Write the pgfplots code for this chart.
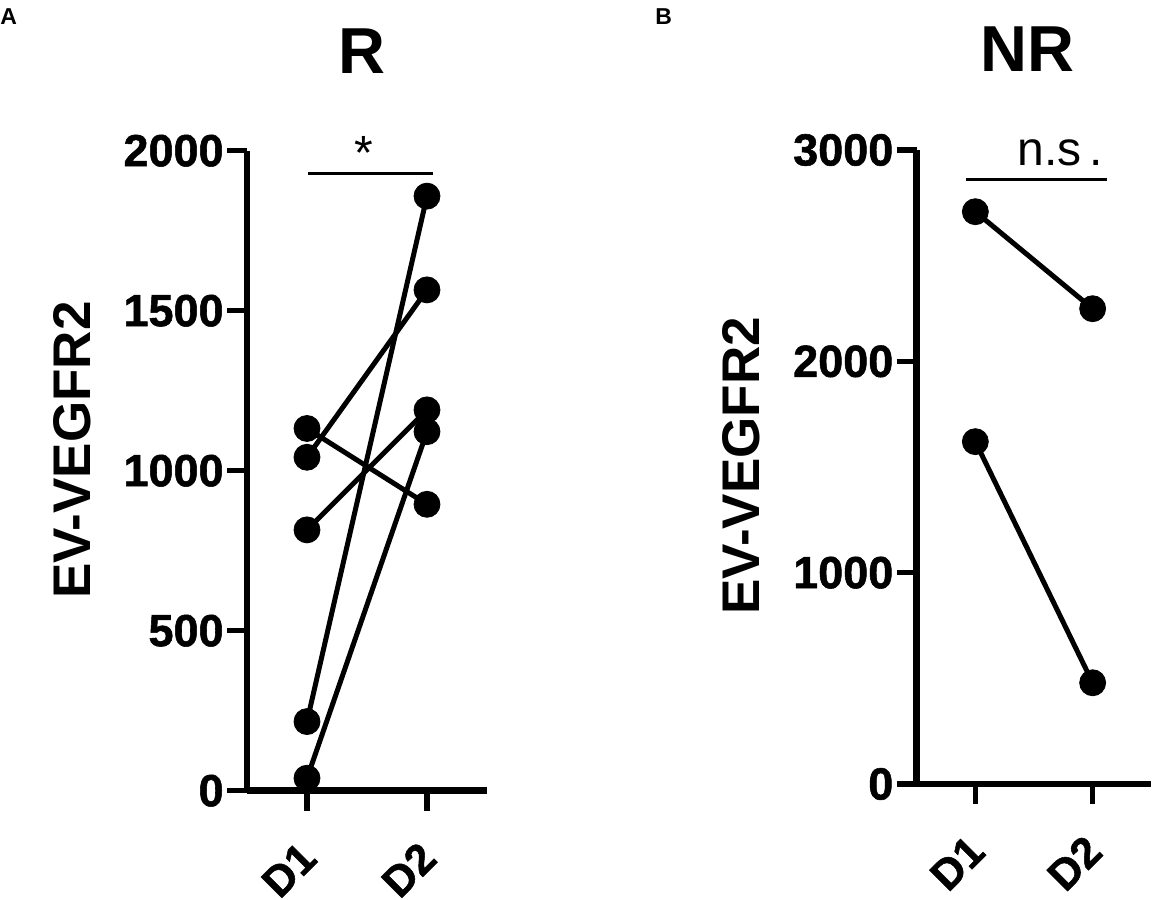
\documentclass[border=0pt]{standalone}
\usepackage{fontspec}
\setmainfont{Liberation Sans}
\newfontfamily\tickfont[FakeBold=1.2]{Liberation Sans Bold}
\usepackage{pgfplots}
\pgfplotsset{compat=1.18}
\pgfplotsset{
  gp/.style={
    scale only axis,
    axis lines=left,
    axis line style={-, line width=3.3pt, black},
    tick align=outside,
    major tick length=10pt,
    major tick style={line width=2.6pt, black},
    xmin=0.5, xmax=2.5, ymin=0,
    xtick={1,2}, xticklabels={D1,D2},
    clip=false,
    /pgf/number format/assume math mode=true,
    yticklabel style={font=\tickfont\fontsize{22.5}{27}\selectfont, inner sep=1.5pt},
    xticklabel style={font=\tickfont\fontsize{21.5}{25}\selectfont, xshift=6pt, yshift=-25pt, rotate=45, anchor=base east, inner sep=0pt},
    every axis y label/.style={rotate=90, anchor=base, font=\bfseries\fontsize{26.5}{30}\selectfont},
    title style={font=\bfseries\fontsize{32.5}{38}\selectfont, anchor=base},
  },
  pair/.style={black, line width=2.5pt, mark=*, mark size=6.5pt, mark options={solid, fill=black, line width=0.4pt}},
  sig/.style={black, line width=1.65pt, no marks},
}
\begin{document}
\begin{tikzpicture}
\path[use as bounding box] (0,0) rectangle (576.5pt,450pt);
\node[anchor=base west, inner sep=0pt, font=\bfseries\fontsize{11.5}{14}\selectfont] at (0pt,437.5pt) {A};
\node[anchor=base west, inner sep=0pt, font=\bfseries\fontsize{11.5}{14}\selectfont] at (327.5pt,437.5pt) {B};
% Panel A
\begin{axis}[gp,
  at={(123.5pt,54.65pt)}, anchor=south west,
  width=120pt, height=320pt,
  ymax=2000,
  ytick={0,500,1000,1500,2000}, yticklabels={0,500,1000,1500,2000},
  ylabel={EV-VEGFR2},
  ylabel style={at={(axis description cs:-0.654,0.532)}},
  title={R},
  title style={at={(axis description cs:0.48,1.102)}},
]
\addplot[pair] coordinates {(1,1132) (2,895)};
\addplot[pair] coordinates {(1,1042) (2,1565)};
\addplot[pair] coordinates {(1,815) (2,1190)};
\addplot[pair] coordinates {(1,216) (2,1858)};
\addplot[pair] coordinates {(1,39) (2,1122)};
\addplot[sig] coordinates {(1.01,1929) (2.05,1929)};
\node[anchor=base, inner sep=0pt, font=\fontsize{24}{28}\selectfont] at (axis cs:1.475,1940) {*};
\end{axis}
% Panel B
\begin{axis}[gp,
  at={(458.35pt,58pt)}, anchor=south west,
  width=117.3pt, height=317pt,
  ymax=3000,
  ytick={0,1000,2000,3000}, yticklabels={0,1000,2000,3000},
  ylabel={EV-VEGFR2},
  ylabel style={at={(axis description cs:-0.668,0.502)}},
  title={NR},
  title style={at={(axis description cs:0.472,1.105)}},
]
\addplot[pair] coordinates {(1,2708) (2,2249)};
\addplot[pair] coordinates {(1,1620) (2,479)};
\addplot[sig] coordinates {(0.92,2862) (2.12,2862)};
\node[anchor=base, inner sep=0pt, font=\fontsize{24}{28}\selectfont] at (axis cs:1.722,2929) {n.s\kern4pt.};
\end{axis}
\end{tikzpicture}
\end{document}
